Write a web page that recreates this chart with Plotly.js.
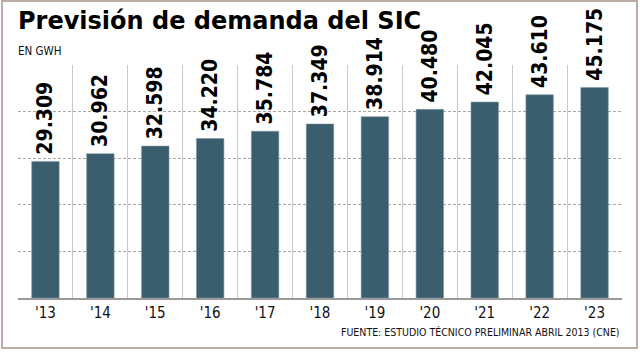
<!DOCTYPE html>
<html>
<head>
<meta charset="utf-8">
<script src="https://cdn.plot.ly/plotly-3.0.1.min.js"></script>
<style>
  html, body { margin: 0; padding: 0; background: #ffffff; }
  #frame { position: absolute; left: 1px; top: 0px; width: 633px; height: 345px;
           border: 2px solid #bcaca4; background: #fff; }
  #chart { width: 633px; height: 345px; }
</style>
</head>
<body>
<div id="frame"><div id="chart"></div></div>
<script>
const years = ["'13", "'14", "'15", "'16", "'17", "'18", "'19", "'20", "'21", "'22", "'23"];
const demandGWh = [29309, 30962, 32598, 34220, 35784, 37349, 38914, 40480, 42045, 43610, 45175];
const titleText = "Previsión de demanda del SIC";
const subtitleText = "EN GWH";
const sourceText = "FUENTE: ESTUDIO TÉCNICO PRELIMINAR ABRIL 2013 (CNE)";

const trace = {
  type: 'bar',
  x: years,
  y: demandGWh,
  marker: { color: '#3a5e6e', line: { color: '#7d97a2', width: 0.6 } },
  texttemplate: '\u2009%{y:,}',
  textposition: 'outside',
  textangle: -90,
  constraintext: 'none',
  cliponaxis: false,
  textfont: { family: '"DejaVu Sans Condensed", sans-serif', size: 21, color: '#000', weight: 'bold' },
  hoverinfo: 'none'
};

const layout = {
  width: 633, height: 345,
  margin: { l: 15, r: 14, t: 63, b: 49 },
  paper_bgcolor: '#ffffff',
  plot_bgcolor: '#ffffff',
  separators: ',.',
  bargap: 0.5,
  showlegend: false,
  font: { family: '"DejaVu Sans Condensed", "DejaVu Sans", sans-serif', color: '#111' },
  xaxis: {
    type: 'category',
    tickson: 'boundaries',
    showgrid: true,
    gridcolor: '#c8c8c8',
    gridwidth: 1,
    ticks: '',
    showline: true,
    linecolor: '#9a9a9a',
    linewidth: 1.5,
    tickfont: { size: 15, color: '#111' },
    fixedrange: true
  },
  yaxis: {
    range: [0, 50000],
    dtick: 10000,
    showgrid: true,
    gridcolor: '#a8a8a8',
    griddash: '3px,2px',
    gridwidth: 1,
    showticklabels: false,
    zeroline: false,
    fixedrange: true
  },
  annotations: [
    { text: '<b>' + titleText + '</b>', xref: 'paper', yref: 'paper', x: -0.004, y: 1.19,
      xanchor: 'left', yanchor: 'middle', showarrow: false,
      font: { family: '"DejaVu Sans", sans-serif', size: 24, color: '#000' } },
    { text: subtitleText, xref: 'paper', yref: 'paper', x: -0.003, y: 1.058,
      xanchor: 'left', yanchor: 'middle', showarrow: false,
      font: { family: '"DejaVu Sans Condensed", sans-serif', size: 11.5, color: '#111' } },
    { text: sourceText, xref: 'paper', yref: 'paper', x: 1.0, y: -0.146,
      xanchor: 'right', yanchor: 'middle', showarrow: false,
      font: { family: '"DejaVu Sans Condensed", sans-serif', size: 10.5, color: '#111' } }
  ]
};

Plotly.newPlot('chart', [trace], layout, { displayModeBar: false, staticPlot: true });
</script>
</body>
</html>
